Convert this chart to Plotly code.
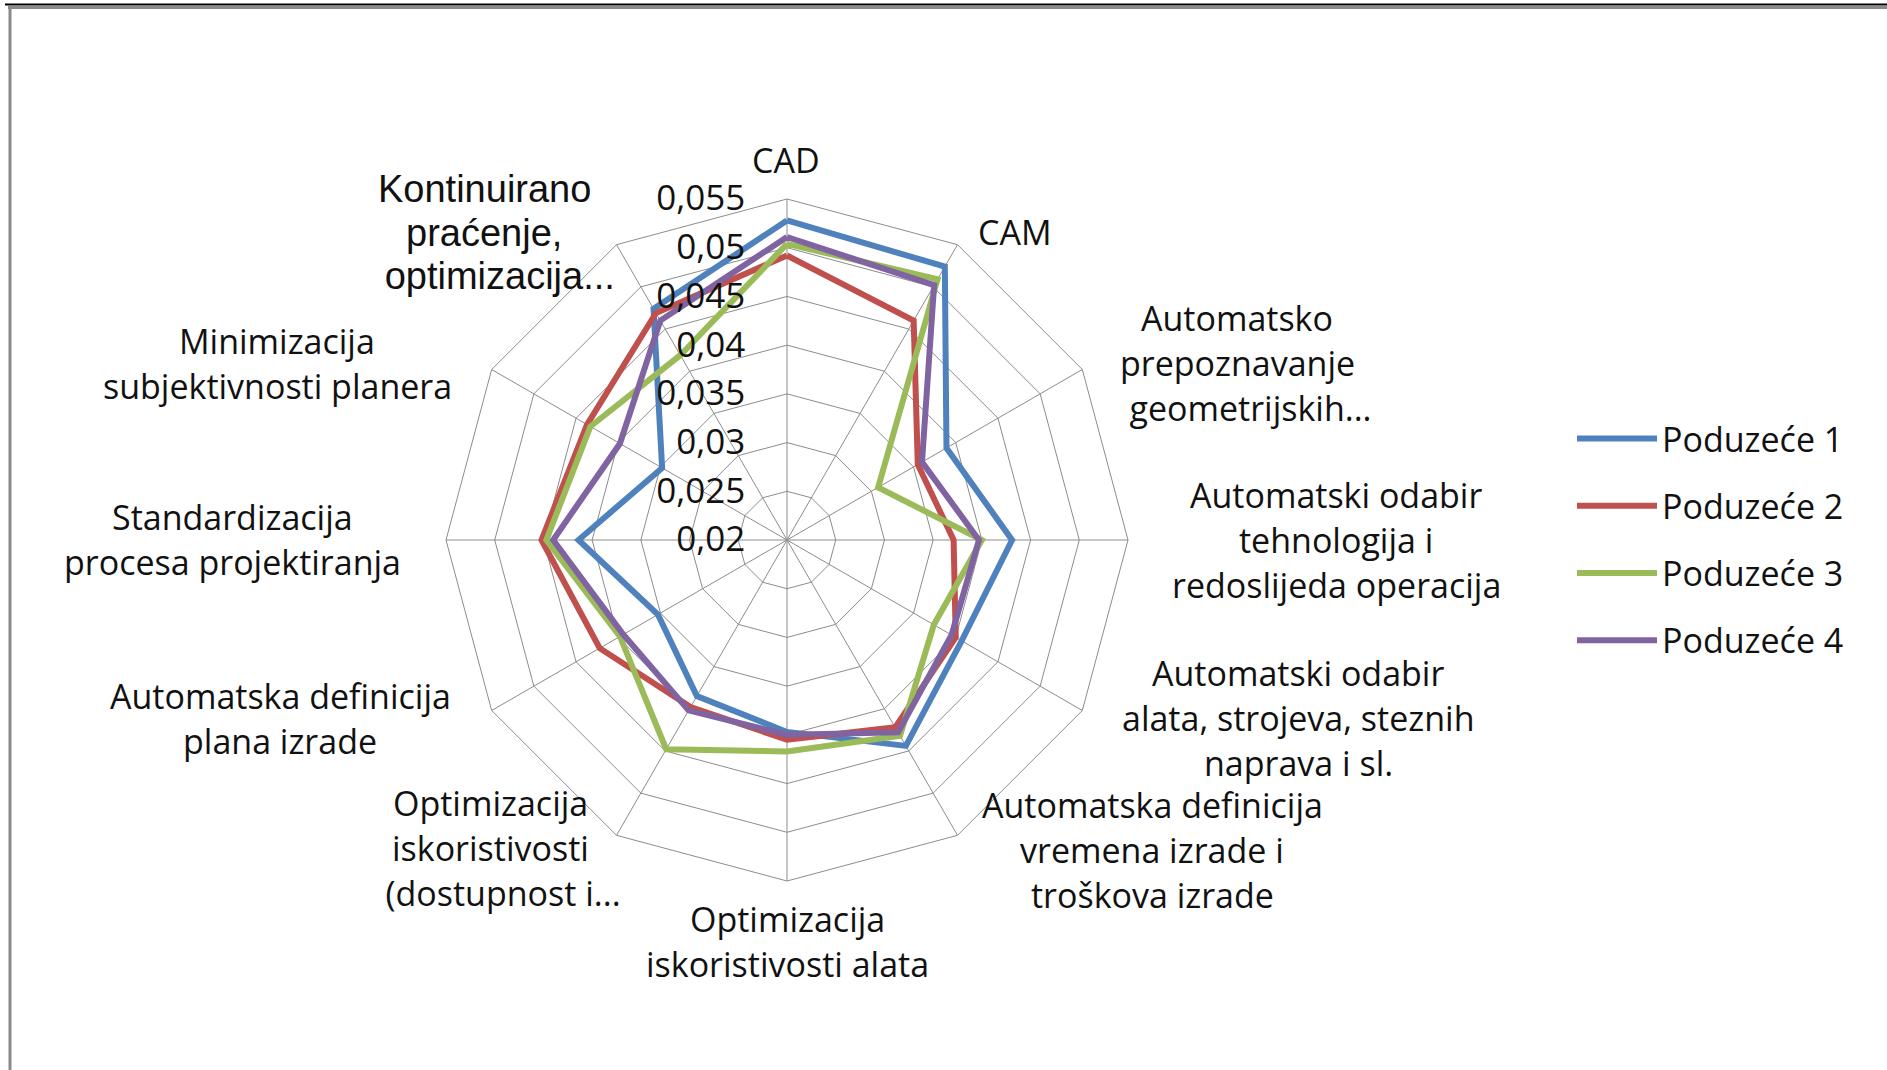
import plotly.graph_objects as go

# Category labels, one entry per radar axis (clockwise from the top), split into display lines
label_lines = [
    ["CAD"],
    ["CAM"],
    ["Automatsko", "prepoznavanje", "geometrijskih..."],
    ["Automatski odabir", "tehnologija i", "redoslijeda operacija"],
    ["Automatski odabir", "alata, strojeva, steznih", "naprava i sl."],
    ["Automatska definicija", "vremena izrade i", "troškova izrade"],
    ["Optimizacija", "iskoristivosti alata"],
    ["Optimizacija", "iskoristivosti", "(dostupnost i..."],
    ["Automatska definicija", "plana izrade"],
    ["Standardizacija", "procesa projektiranja"],
    ["Minimizacija", "subjektivnosti planera"],
    ["Kontinuirano", "praćenje,", "optimizacija..."],
]
categories = [" ".join(lines) for lines in label_lines]

series_names = ["Poduzeće 1", "Poduzeće 2", "Poduzeće 3", "Poduzeće 4"]
poduzece_1 = [0.0528, 0.0524, 0.0389, 0.0431, 0.0407, 0.0444, 0.0397, 0.0385, 0.0353, 0.0414, 0.0348, 0.0474]
poduzece_2 = [0.0492, 0.0460, 0.0355, 0.0371, 0.0400, 0.0422, 0.0405, 0.0398, 0.0422, 0.0452, 0.0437, 0.0469]
poduzece_3 = [0.0504, 0.0509, 0.0308, 0.0400, 0.0374, 0.0432, 0.0417, 0.0448, 0.0398, 0.0447, 0.0433, 0.0419]
poduzece_4 = [0.0511, 0.0502, 0.0360, 0.0397, 0.0395, 0.0428, 0.0400, 0.0402, 0.0394, 0.0440, 0.0398, 0.0460]
series_values = [poduzece_1, poduzece_2, poduzece_3, poduzece_4]

radial_ticks = [0.02, 0.025, 0.03, 0.035, 0.04, 0.045, 0.05, 0.055]
radial_ticktext = ["0,02", "0,025", "0,03", "0,035", "0,04", "0,045", "0,05", "0,055"]

# Styling
W, H = 1887, 1070
colors = ["#4F81BD", "#C0504D", "#9BBB59", "#8064A2"]
grid_color = "#8c8c8c"
text_color = "#111111"
FONT = "Open Sans"
FSIZE = 34

# Label placement in pixels: centre x of the text block and y of its first line
label_anchor = [
    (786, 160), (1015, 232), (1237, 318), (1336, 495), (1298, 673), (1152, 805),
    (787, 919), (490, 803), (280, 696), (232, 517), (277, 341), (484, 189),
]
line_step = 45

fig = go.Figure()
for name, vals, col in zip(series_names, series_values, colors):
    fig.add_trace(go.Scatterpolar(
        r=vals + vals[:1],
        theta=categories + categories[:1],
        mode="lines",
        name=name,
        legendgroup=name,
        line=dict(color=col, width=6),
        hoverinfo="skip",
    ))

annotations = []
for lines, (cx, cy) in zip(label_lines, label_anchor):
    special = lines[0] == "Kontinuirano"
    step = 43.5 if special else line_step
    for i, txt in enumerate(lines):
        shown = txt
        if txt.endswith("..."):
            shown = "\u00a0\u00a0\u00a0" + txt
        annotations.append(dict(
            x=cx / W, y=1 - (cy + i * step) / H, xref="paper", yref="paper",
            text=shown, showarrow=False, xanchor="center", yanchor="middle",
            font=dict(family="Liberation Sans" if special else FONT,
                      size=38 if special else FSIZE, color=text_color),
        ))

# Chart frame edges
shapes = [
    dict(type="line", xref="paper", yref="paper", x0=5 / W, x1=1, y0=1 - 4.5 / H, y1=1 - 4.5 / H,
         line=dict(color="#000000", width=2)),
    dict(type="line", xref="paper", yref="paper", x0=8 / W, x1=1, y0=1 - 7.5 / H, y1=1 - 7.5 / H,
         line=dict(color="#8a8a8a", width=3)),
    dict(type="line", xref="paper", yref="paper", x0=10 / W, x1=10 / W, y0=0, y1=1 - 6 / H,
         line=dict(color="#8a8a8a", width=3)),
]

cx, cy, R = 787, 540, 341
fig.update_layout(
    width=W, height=H,
    margin=dict(l=0, r=0, t=0, b=0),
    paper_bgcolor="white", plot_bgcolor="white",
    font=dict(family=FONT, size=FSIZE, color=text_color),
    polar=dict(
        domain=dict(x=[(cx - R) / W, (cx + R) / W], y=[1 - (cy + R) / H, 1 - (cy - R) / H]),
        gridshape="linear",
        bgcolor="white",
        angularaxis=dict(
            direction="clockwise", rotation=90,
            showticklabels=False, ticks="",
            showgrid=True, gridcolor=grid_color, gridwidth=1,
            showline=True, linecolor=grid_color, linewidth=1,
        ),
        radialaxis=dict(
            range=[0.02, 0.055], tickvals=radial_ticks, ticktext=radial_ticktext,
            angle=90, side="counterclockwise", tickangle=90,
            ticks="outside", ticklen=29, tickcolor="rgba(0,0,0,0)",
            showline=False, showgrid=True, gridcolor=grid_color, gridwidth=1,
            tickfont=dict(family=FONT, size=35, color=text_color),
            layer="above traces",
        ),
    ),
    showlegend=True,
    legend=dict(
        x=1572 / W, y=1 - 410 / H, xanchor="left", yanchor="top",
        font=dict(family=FONT, size=FSIZE, color=text_color),
        traceorder="grouped", tracegroupgap=20, itemwidth=80,
        bgcolor="rgba(0,0,0,0)",
    ),
    annotations=annotations,
    shapes=shapes,
)

fig.write_html("out.html")
